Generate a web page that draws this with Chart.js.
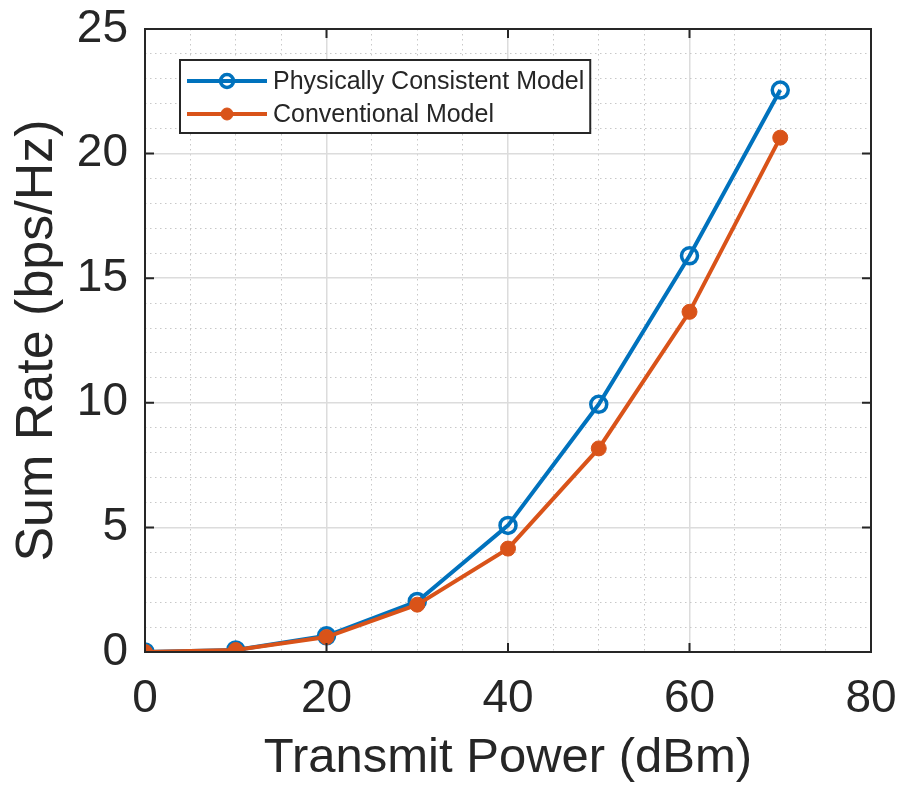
<!DOCTYPE html>
<html>
<head>
<meta charset="utf-8">
<script src="https://cdn.jsdelivr.net/npm/chart.js@4.4.1/dist/chart.umd.min.js"></script>
<style>
  html, body { margin: 0; padding: 0; background: #ffffff; }
  #wrap { width: 904px; height: 790px; position: relative; }
</style>
</head>
<body>
<div id="wrap"><canvas id="c" width="904" height="790"></canvas></div>
<script>
// Sum rate vs. transmit power for the two channel models
const transmitPower = [0, 10, 20, 30, 40, 50, 60, 70];
const physicallyConsistent = [0, 0.08, 0.65, 2.03, 5.08, 9.94, 15.9, 22.55];
const conventional = [0, 0.08, 0.6, 1.9, 4.15, 8.17, 13.65, 20.64];
const seriesNames = ['Physically Consistent Model', 'Conventional Model'];
const xTickLabels = [0, 20, 40, 60, 80];
const yTickLabels = [0, 5, 10, 15, 20, 25];

const FONT = '"Liberation Sans", Arial, sans-serif';
const BLUE = '#0072BD';
const ORANGE = '#D95319';
const AXIS = '#262626';

const isMajorX = v => xTickLabels.includes(v);
const isMajorY = v => yTickLabels.includes(v);

function gridColor(isMajor) {
  return ctx => (ctx.tick && isMajor(ctx.tick.value)) ? '#dcdcdc' : '#c8c8c8';
}
function gridWidth(isMajor) {
  return ctx => (ctx.tick && isMajor(ctx.tick.value)) ? 1.5 : 1;
}
function gridDash(isMajor) {
  return ctx => (ctx.tick && !isMajor(ctx.tick.value)) ? [1.5, 3.5] : [];
}

// Box around the plot area with inward tick marks on all sides
const frameBox = {
  id: 'frameBox',
  afterDatasetsDraw(chart) {
    const { ctx, chartArea: a, scales } = chart;
    ctx.save();
    ctx.strokeStyle = AXIS;
    ctx.lineWidth = 2;
    ctx.strokeRect(a.left, a.top, a.right - a.left, a.bottom - a.top);
    const len = 9;
    ctx.beginPath();
    xTickLabels.forEach(v => {
      const x = scales.x.getPixelForValue(v);
      ctx.moveTo(x, a.bottom); ctx.lineTo(x, a.bottom - len);
      ctx.moveTo(x, a.top); ctx.lineTo(x, a.top + len);
    });
    yTickLabels.forEach(v => {
      const y = scales.y.getPixelForValue(v);
      ctx.moveTo(a.left, y); ctx.lineTo(a.left + len, y);
      ctx.moveTo(a.right, y); ctx.lineTo(a.right - len, y);
    });
    ctx.stroke();
    ctx.restore();
  }
};

// Legend drawn inside the plot area, upper left
const insideLegend = {
  id: 'insideLegend',
  afterDraw(chart) {
    const { ctx, chartArea: a } = chart;
    const sets = chart.data.datasets;
    ctx.save();
    ctx.font = '25px ' + FONT;
    const textW = Math.max(...sets.map(d => ctx.measureText(d.label).width));
    const left = a.left + 35, top = a.top + 31;
    const rowH = 33, sampleW = 80, gap = 6;
    const w = 7 + sampleW + gap + textW + 6;
    const h = 73;
    ctx.fillStyle = '#ffffff';
    ctx.fillRect(left, top, w, h);
    ctx.strokeStyle = AXIS;
    ctx.lineWidth = 2;
    ctx.strokeRect(left, top, w, h);
    sets.forEach((d, i) => {
      const cy = top + 21 + rowH * i;
      const x0 = left + 7, x1 = x0 + sampleW, xm = (x0 + x1) / 2;
      ctx.strokeStyle = d.borderColor;
      ctx.lineWidth = d.borderWidth;
      ctx.beginPath(); ctx.moveTo(x0, cy); ctx.lineTo(x1, cy); ctx.stroke();
      ctx.beginPath();
      ctx.arc(xm, cy, d.pointRadius - 1.5, 0, Math.PI * 2);
      if (d.pointBackgroundColor !== 'rgba(0,0,0,0)') {
        ctx.fillStyle = d.pointBackgroundColor; ctx.fill();
      }
      ctx.lineWidth = d.pointBorderWidth;
      ctx.strokeStyle = d.pointBorderColor;
      ctx.stroke();
      ctx.fillStyle = AXIS;
      ctx.textBaseline = 'middle';
      ctx.textAlign = 'left';
      ctx.fillText(d.label, x1 + gap, cy + 1);
    });
    ctx.restore();
  }
};

new Chart(document.getElementById('c'), {
  type: 'line',
  data: {
    datasets: [
      {
        label: seriesNames[0],
        data: transmitPower.map((x, i) => ({ x, y: physicallyConsistent[i] })),
        borderColor: BLUE,
        borderWidth: 4,
        pointRadius: 8,
        pointBorderWidth: 3.5,
        pointBorderColor: BLUE,
        pointBackgroundColor: 'rgba(0,0,0,0)',
        order: 2
      },
      {
        label: seriesNames[1],
        data: transmitPower.map((x, i) => ({ x, y: conventional[i] })),
        borderColor: ORANGE,
        borderWidth: 4,
        pointRadius: 7.5,
        pointBorderWidth: 1,
        pointBorderColor: ORANGE,
        pointBackgroundColor: ORANGE,
        order: 1
      }
    ]
  },
  options: {
    responsive: false,
    animation: false,
    devicePixelRatio: 1,
    layout: { padding: { top: 29, right: 33, left: 0, bottom: 0 } },
    plugins: { legend: { display: false }, tooltip: { enabled: false } },
    elements: { line: { tension: 0 } },
    scales: {
      x: {
        type: 'linear',
        min: 0, max: 80,
        afterFit: s => { s.height = 138; s.paddingLeft = 0; s.paddingRight = 0; },
        ticks: {
          stepSize: 5,
          autoSkip: false,
          maxRotation: 0,
          padding: 20,
          color: AXIS,
          font: { family: FONT, size: 46 },
          callback: v => isMajorX(v) ? String(v) : ''
        },
        grid: { drawTicks: false, color: gridColor(isMajorX), lineWidth: gridWidth(isMajorX) },
        border: { display: false, dash: gridDash(isMajorX) },
        title: {
          display: true,
          text: 'Transmit Power (dBm)',
          color: AXIS,
          font: { family: FONT, size: 49 },
          padding: { top: 0, bottom: 2 }
        }
      },
      y: {
        type: 'linear',
        min: 0, max: 25,
        afterFit: s => { s.width = 145; s.paddingTop = 0; s.paddingBottom = 0; },
        ticks: {
          stepSize: 1,
          autoSkip: false,
          padding: 17,
          color: AXIS,
          font: { family: FONT, size: 46 },
          callback: v => isMajorY(v) ? String(v) : ''
        },
        grid: { drawTicks: false, color: gridColor(isMajorY), lineWidth: gridWidth(isMajorY) },
        border: { display: false, dash: gridDash(isMajorY) },
        title: {
          display: true,
          text: 'Sum Rate (bps/Hz)',
          color: AXIS,
          font: { family: FONT, size: 52 },
          padding: { top: 6, bottom: 0 }
        }
      }
    }
  },
  plugins: [frameBox, insideLegend]
});
</script>
</body>
</html>
